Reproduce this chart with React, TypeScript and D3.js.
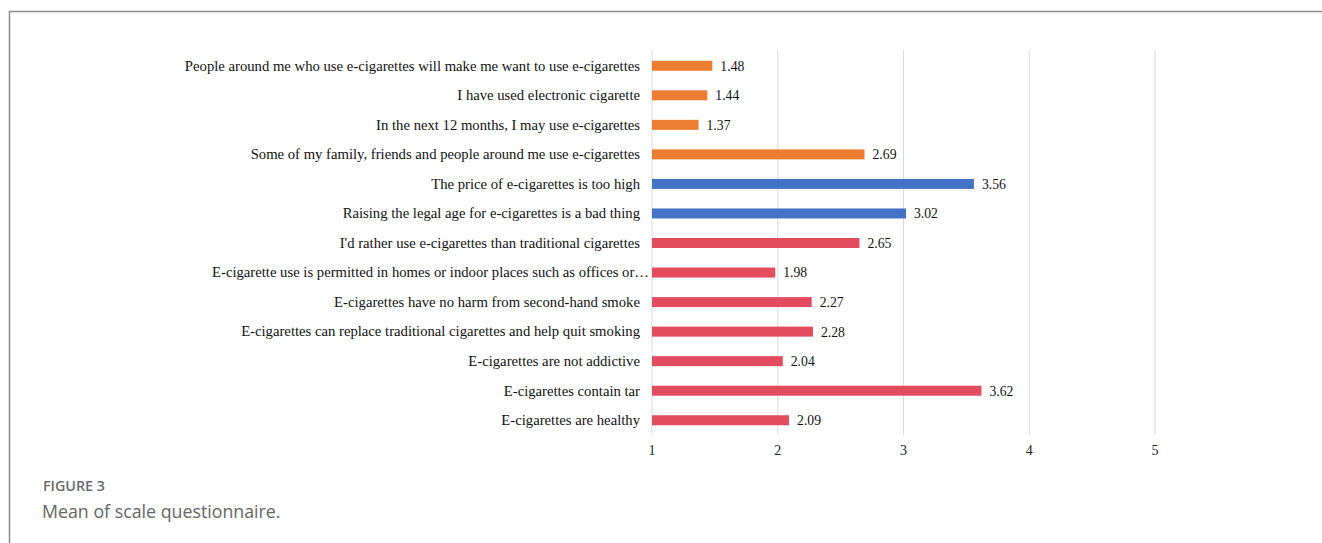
import React from "react";
import * as d3 from "d3";

const categories: string[] = [
  "People around me who use e-cigarettes will make me want to use e-cigarettes",
  "I have used electronic cigarette",
  "In the next 12 months, I may use e-cigarettes",
  "Some of my family, friends and people around me use e-cigarettes",
  "The price of e-cigarettes is too high",
  "Raising the legal age for e-cigarettes is a bad thing",
  "I'd rather use e-cigarettes than traditional cigarettes",
  "E-cigarette use is permitted in homes or indoor places such as offices or…",
  "E-cigarettes have no harm from second-hand smoke",
  "E-cigarettes can replace traditional cigarettes and help quit smoking",
  "E-cigarettes are not addictive",
  "E-cigarettes contain tar",
  "E-cigarettes are healthy",
];
const values: number[] = [1.48, 1.44, 1.37, 2.69, 3.56, 3.02, 2.65, 1.98, 2.27, 2.28, 2.04, 3.62, 2.09];
const groups: string[] = ["a", "a", "a", "a", "b", "b", "c", "c", "c", "c", "c", "c", "c"];
const groupColors: Record<string, string> = { a: "#ED7D31", b: "#4472C4", c: "#E34B5E" };
const xTicks: number[] = [1, 2, 3, 4, 5];

export default function App() {
  const W = 1322, H = 543;
  const x = d3.scaleLinear().domain([1, 5]).range([652, 1155]);
  const y = d3.scaleBand<string>().domain(categories).range([51, 435]).paddingInner(0.66).paddingOuter(0.33);
  const barH = 10;
  return (
    <svg width={W} height={H} style={{ position: "absolute", left: 0, top: 0, display: "block" }}>
      <rect x={0} y={0} width={W} height={H} fill="#fff" />
      <line x1={9} x2={W} y1={11.5} y2={11.5} stroke="#8a8a8a" strokeWidth={1.5} />
      <line x1={9.5} x2={9.5} y1={11} y2={H} stroke="#8a8a8a" strokeWidth={1.5} />
      {xTicks.map((t) => (
        <line key={t} x1={x(t)} x2={x(t)} y1={50} y2={435} stroke="#d9d9d9" strokeWidth={1} />
      ))}
      {xTicks.map((t) => (
        <text key={"t" + t} x={x(t)} y={455} textAnchor="middle" fontFamily="Liberation Serif" fontSize={14} fill="#222">
          {t}
        </text>
      ))}
      {categories.map((c, i) => {
        const cy = (y(c) as number) + y.bandwidth() / 2;
        const truncated = c.endsWith("…");
        return (
          <g key={c}>
            <rect x={x(1)} y={cy - barH / 2} width={x(values[i]) - x(1)} height={barH} fill={groupColors[groups[i]]} />
            <text x={truncated ? 649 : 640} y={cy} dy="0.33em" textAnchor="end" fontFamily="Liberation Serif" fontSize={14.7} fill="#111">
              {c}
            </text>
            <text x={x(values[i]) + 8} y={cy} dy="0.36em" fontFamily="Liberation Serif" fontSize={13.7} fill="#111">
              {values[i].toFixed(2)}
            </text>
          </g>
        );
      })}
      <text x={43} y={491} fontFamily="Open Sans" fontWeight={600} fontSize={14.3} fill="#6b6b6b">FIGURE 3</text>
      <text x={42} y={518} fontFamily="Open Sans" fontSize={17.8} fill="#666">Mean of scale questionnaire.</text>
    </svg>
  );
}
